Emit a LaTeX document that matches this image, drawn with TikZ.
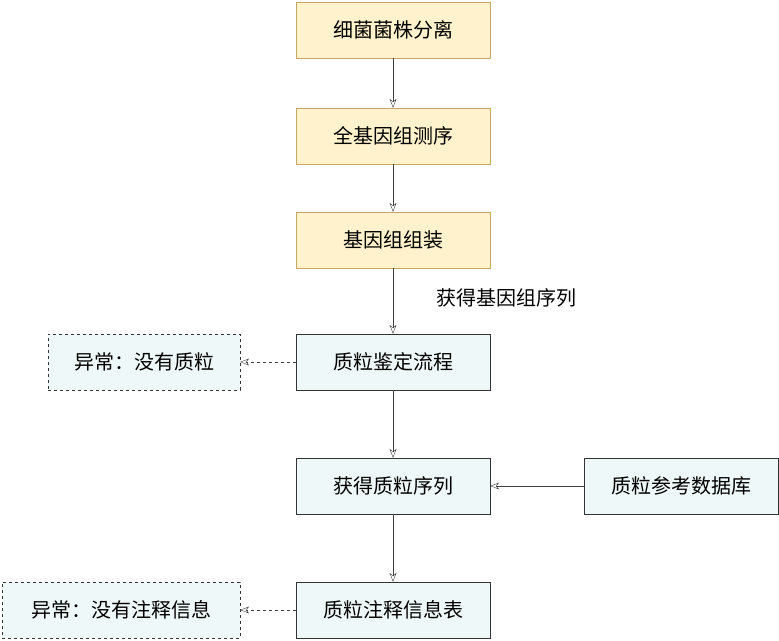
\documentclass[tikz,border=0pt]{standalone}
\usepackage{fontspec}
\setmainfont{Noto Sans CJK SC}
\usetikzlibrary{arrows.meta}
\definecolor{stepfill}{HTML}{FFF2CC}
\definecolor{stepdraw}{HTML}{C8A860}
\definecolor{plasfill}{HTML}{EFF8F8}
\begin{document}
\begin{tikzpicture}[x=1pt,y=-1pt,
    font=\fontsize{20}{24}\selectfont,
    stepbox/.style={draw=stepdraw, fill=stepfill, minimum width=194pt, minimum height=56pt, inner sep=0pt},
    plasbox/.style={draw=black!80, fill=plasfill, minimum width=194pt, minimum height=56pt, inner sep=0pt},
    errbox/.style={plasbox, dashed},
    flow/.style={-{Stealth[open,length=9pt,width=7pt]}, draw=black!75, thin}]
    \useasboundingbox (0,0) rectangle (779,640);
    % main column
    \node[stepbox] (sep) at (393,30) {细菌菌株分离};
    \node[stepbox] (seq) at (393,136) {全基因组测序};
    \node[stepbox] (asm) at (393,240) {基因组组装};
    \node[plasbox] (ident) at (393,362) {质粒鉴定流程};
    \node[plasbox] (get) at (393,486) {获得质粒序列};
    \node[plasbox] (anno) at (393,610) {质粒注释信息表};
    % side boxes
    \node[errbox, minimum width=192pt] (noplas) at (144,362) {异常：没有质粒};
    \node[errbox, minimum width=238pt] (noanno) at (121,610) {异常：没有注释信息};
    \node[plasbox] (db) at (681,486) {质粒参考数据库};
    % connectors
    \draw[flow] (sep) -- (seq);
    \draw[flow] (seq) -- (asm);
    \draw[flow] (asm) -- node[right=40pt, pos=0.45] {获得基因组序列} (ident);
    \draw[flow] (ident) -- (get);
    \draw[flow] (get) -- (anno);
    \draw[flow] (db) -- (get);
    \draw[flow, dashed] (ident) -- (noplas);
    \draw[flow, dashed] (anno) -- (noanno);
\end{tikzpicture}
\end{document}
